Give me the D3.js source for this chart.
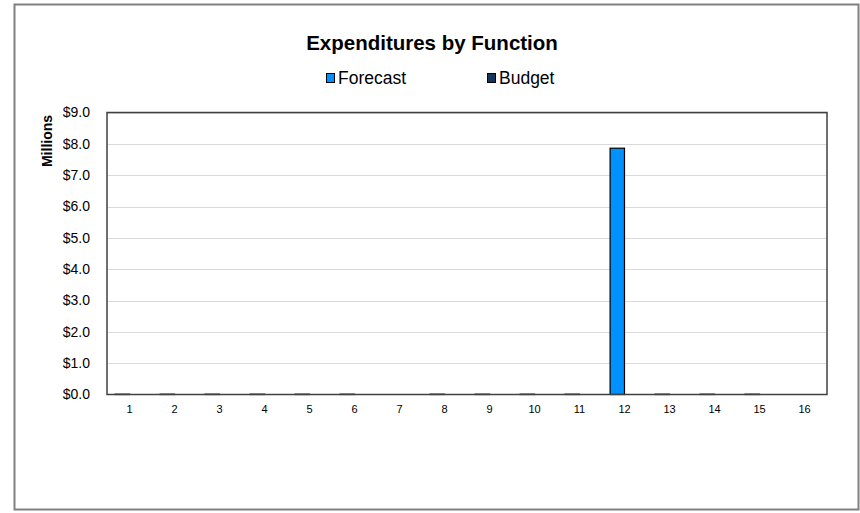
<!DOCTYPE html>
<html><head><meta charset="utf-8">
<script src="https://cdn.jsdelivr.net/npm/d3@7"></script>
<style>body{margin:0;background:#fff;font-family:Arial,"Liberation Sans",sans-serif;}</style>
</head><body><svg id="c" width="860" height="513"></svg>
<script>
const categories = ["1","2","3","4","5","6","7","8","9","10","11","12","13","14","15","16"];
const forecast = [0.01,0.01,0.01,0.01,0.01,0.01,0,0.01,0.01,0.01,0.01,7.86,0.01,0.01,0.01,0];
const budget = [0,0,0,0,0,0,0,0,0,0,0,0,0,0,0,0];
const seriesNames = ["Forecast","Budget"];
const seriesColors = ["#0090ff","#13365a"];
const yTicks = [0,1,2,3,4,5,6,7,8,9];
const title = "Expenditures by Function";
const yLabel = "Millions";

const svg = d3.select("#c");
const m = {left:107, right:827, top:112.5, bottom:394.5};

svg.append("rect").attr("x",14.5).attr("y",4.5).attr("width",844).attr("height",505)
  .attr("fill","#fff").attr("stroke","#808080").attr("stroke-width",2);

const x = d3.scaleBand().domain(categories).range([m.left,m.right]).paddingInner(0.36).paddingOuter(0.18);
const xs = d3.scaleBand().domain(seriesNames).range([0,x.bandwidth()]);
const y = d3.scaleLinear().domain([0,9]).range([m.bottom,m.top]);

// gridlines
svg.append("g").selectAll("line").data(yTicks.slice(1)).join("line")
  .attr("x1",m.left).attr("x2",m.right).attr("y1",d=>Math.round(y(d))+0.5).attr("y2",d=>Math.round(y(d))+0.5)
  .attr("stroke","#d9d9d9").attr("stroke-width",1);

// bars
const data = [forecast,budget];
data.forEach((vals,si)=>{
  svg.append("g").selectAll("rect").data(vals.map((v,i)=>({v,c:categories[i]})).filter(d=>d.v>0)).join("rect")
    .attr("x",d=>x(d.c)+xs(seriesNames[si]))
    .attr("width",xs.bandwidth())
    .attr("y",d=>y(d.v))
    .attr("height",d=>y(0)-y(d.v))
    .attr("fill",seriesColors[si]).attr("stroke","#000").attr("stroke-width",1.2);
});

// plot border
svg.append("rect").attr("x",m.left).attr("y",m.top).attr("width",m.right-m.left).attr("height",m.bottom-m.top)
  .attr("fill","none").attr("stroke","#404040").attr("stroke-width",1.5);

// y axis
const yAxis = d3.axisLeft(y).tickValues(yTicks).tickFormat(d=>"$"+d3.format(".1f")(d)).tickSize(0).tickPadding(17);
const gy = svg.append("g").attr("transform",`translate(${m.left},0)`).call(yAxis);
gy.select(".domain").remove();
gy.selectAll("text").attr("font-size","14px").attr("font-family","Arial,'Liberation Sans',sans-serif").attr("fill","#000");

// x axis
const xAxis = d3.axisBottom(x).tickSize(0).tickPadding(11);
const gx = svg.append("g").attr("transform",`translate(0,${m.bottom})`).call(xAxis);
gx.select(".domain").remove();
gx.selectAll("text").attr("font-size","11px").attr("font-family","Arial,'Liberation Sans',sans-serif").attr("fill","#000");

// title
svg.append("text").attr("x",432).attr("y",50).attr("text-anchor","middle")
  .attr("font-size","20.5px").attr("font-weight","bold").text(title);

// y label
svg.append("text").attr("transform","translate(52,141) rotate(-90)").attr("text-anchor","middle")
  .attr("font-size","14px").attr("font-weight","bold").text(yLabel);

// legend
const legX = [326,487];
seriesNames.forEach((s,i)=>{
  svg.append("rect").attr("x",legX[i]+0.5).attr("y",73.5).attr("width",8).attr("height",9)
    .attr("fill",seriesColors[i]).attr("stroke","#000").attr("stroke-width",1);
  svg.append("text").attr("x",legX[i]+12).attr("y",84).attr("font-size","17.5px").text(s);
});
</script></body></html>
